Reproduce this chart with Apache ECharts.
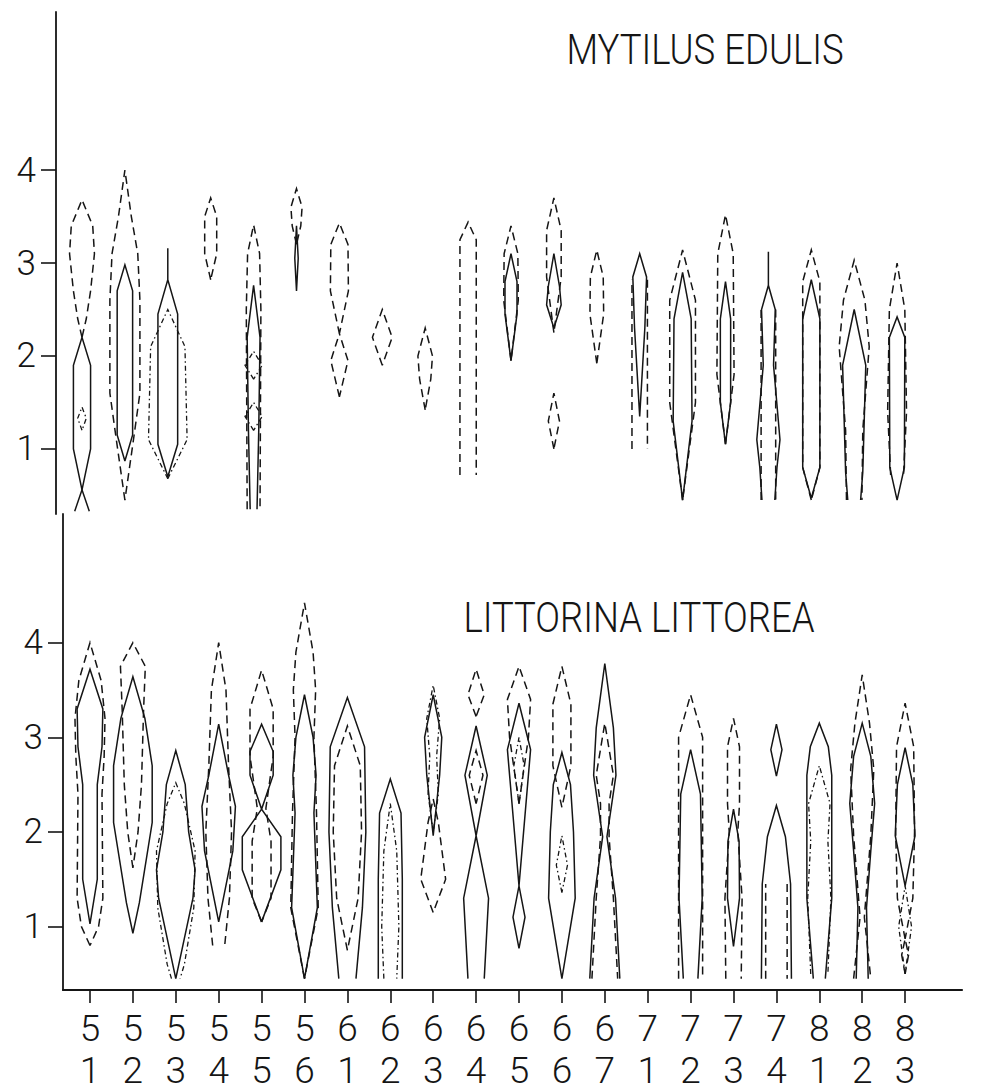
<!DOCTYPE html>
<html><head><meta charset="utf-8">
<script src="https://cdn.jsdelivr.net/npm/echarts@6/dist/echarts.min.js"></script>
<style>html,body{margin:0;padding:0;background:#fff}#c{width:981px;height:1091px}</style>
</head><body><div id="c"></div>
<script>
// Stations (x categories)
const categories = ['5\n1','5\n2','5\n3','5\n4','5\n5','5\n6','6\n1','6\n2','6\n3','6\n4','6\n5','6\n6','6\n7','7\n1','7\n2','7\n3','7\n4','8\n1','8\n2','8\n3'];
const yTicks = [1, 2, 3, 4];
const titleTop = 'MYTILUS EDULIS';
const titleBottom = 'LITTORINA LITTOREA';

// Kite profiles: [categoryIndex, lobe, lobe...]; lobe = [[level, halfWidth], ...]
const mytilusSolid = [
  [0, [[2.2,0],[1.9,0.2],[1.0,0.2],[0.56,0]], [[0.56,0],[0.33,0.17]]],
  [1, [[2.98,0],[2.7,0.18],[1.15,0.18],[0.87,0]]],
  [2, [[3.16,0],[2.82,0],[2.45,0.23],[1.05,0.23],[0.7,0]]],
  [4, [[2.76,0],[2.2,0.15],[1.2,0.12],[0.35,0.08]]],
  [5, [[3.4,0],[3.05,0.04],[2.7,0]]],
  [10, [[3.1,0],[2.8,0.14],[2.45,0.14],[1.95,0]]],
  [11, [[3.1,0],[2.75,0.13],[2.55,0.17],[2.3,0]]],
  [13, [[3.1,0],[2.85,0.16],[2.3,0.12],[1.35,0]]],
  [14, [[2.9,0],[2.4,0.2],[1.3,0.22],[0.45,0]]],
  [15, [[2.8,0],[2.4,0.12],[1.5,0.12],[1.05,0]]],
  [16, [[3.12,0],[2.76,0],[2.5,0.16],[1.9,0.12],[1.1,0.27],[0.8,0.2],[0.45,0.15]]],
  [17, [[2.82,0],[2.4,0.2],[0.8,0.2],[0.47,0]]],
  [18, [[2.5,0],[1.9,0.27],[0.75,0.2],[0.45,0.15]]],
  [19, [[2.42,0],[2.2,0.18],[0.8,0.17],[0.45,0]]]
];
const mytilusDashed = [
  [0, [[3.68,0],[3.4,0.25],[3.1,0.29],[2.7,0.2],[2.4,0.1],[2.2,0]]],
  [1, [[4.0,0],[3.5,0.15],[3.1,0.3],[2.6,0.35],[1.6,0.35],[1.1,0.2],[0.45,0]]],
  [3, [[3.7,0],[3.5,0.14],[3.1,0.14],[2.82,0]]],
  [4, [[3.41,0],[3.1,0.14],[2.5,0.17],[0.35,0.15]]],
  [5, [[3.8,0],[3.6,0.13],[3.4,0.1],[3.2,0]]],
  [6, [[3.43,0],[3.2,0.2],[2.7,0.21],[2.24,0],[1.95,0.2],[1.56,0]]],
  [7, [[2.5,0],[2.2,0.23],[1.9,0]]],
  [8, [[2.3,0],[2.0,0.17],[1.75,0.13],[1.42,0]]],
  [9, [[3.44,0],[3.25,0.19],[0.72,0.19]]],
  [10, [[3.4,0],[3.1,0.16],[2.6,0.17],[1.95,0]]],
  [11, [[3.7,0],[3.35,0.17],[2.85,0.17],[2.25,0]], [[1.6,0],[1.3,0.13],[1.0,0]]],
  [12, [[3.14,0],[2.85,0.15],[2.45,0.16],[1.92,0]]],
  [13, [[2.82,0.18],[1.0,0.18]]],
  [14, [[3.14,0],[2.6,0.3],[1.5,0.3],[0.8,0.1],[0.45,0]]],
  [15, [[3.52,0],[3.1,0.18],[1.8,0.2],[1.05,0]]],
  [16, [[2.5,0.17],[0.45,0.17]]],
  [17, [[3.14,0],[2.8,0.2],[0.8,0.2],[0.45,0]]],
  [18, [[3.03,0],[2.6,0.25],[2.1,0.35],[1.8,0.3],[1.2,0.2],[0.45,0.18]]],
  [19, [[3.0,0],[2.5,0.18],[1.4,0.22],[0.72,0.15]]]
];
const mytilusDotted = [
  [0, [[1.45,0],[1.33,0.1],[1.2,0]]],
  [2, [[2.5,0],[2.3,0.2],[2.1,0.4],[1.1,0.45],[0.68,0]]],
  [4, [[2.05,0],[1.9,0.2],[1.75,0]], [[1.5,0],[1.35,0.2],[1.2,0]]]
];

const littorinaSolid = [
  [0, [[3.72,0],[3.3,0.3],[2.9,0.28],[2.5,0.17],[1.5,0.17],[1.03,0]]],
  [1, [[3.64,0],[3.2,0.28],[2.7,0.45],[2.1,0.45],[1.25,0.15],[0.93,0]]],
  [2, [[2.86,0],[2.5,0.22],[2.0,0.3],[1.6,0.45],[1.3,0.4],[0.45,0]]],
  [3, [[3.14,0],[2.6,0.23],[2.27,0.39],[1.8,0.33],[1.05,0]]],
  [4, [[3.14,0],[2.85,0.27],[2.6,0.27],[2.24,0],[1.95,0.45],[1.6,0.45],[1.05,0]]],
  [5, [[3.45,0],[3.0,0.2],[2.6,0.27],[2.2,0.22],[1.2,0.3],[0.45,0]]],
  [6, [[3.42,0],[2.9,0.4],[2.0,0.43],[1.2,0.35],[0.45,0.2]]],
  [7, [[2.56,0],[2.2,0.25],[1.5,0.28],[0.45,0.28]]],
  [8, [[3.45,0],[3.0,0.2],[2.6,0.15],[1.96,0]]],
  [9, [[3.12,0],[2.6,0.26],[1.96,0]], [[1.96,0],[1.3,0.29],[0.45,0.19]]],
  [10, [[3.36,0],[2.87,0.27],[1.43,0]], [[1.43,0],[1.1,0.14],[0.77,0]]],
  [11, [[2.84,0],[2.5,0.2],[2.0,0.27],[1.3,0.31],[0.45,0]]],
  [12, [[3.78,0],[3.1,0.2],[2.6,0.26],[1.95,0.05],[1.3,0.25],[0.45,0.35]]],
  [14, [[2.87,0],[2.4,0.23],[1.3,0.27],[0.45,0.17]]],
  [15, [[2.24,0],[1.9,0.13],[1.3,0.14],[0.79,0]]],
  [16, [[3.14,0],[2.87,0.13],[2.59,0]], [[2.28,0],[1.95,0.21],[1.45,0.33],[0.45,0.35]]],
  [17, [[3.15,0],[2.9,0.21],[2.6,0.29],[1.3,0.29],[0.45,0.14]]],
  [18, [[3.15,0],[2.8,0.2],[2.3,0.29],[1.8,0.2],[1.2,0.1],[0.45,0.14]]],
  [19, [[2.89,0],[2.5,0.18],[1.96,0.23],[1.43,0]]]
];
const littorinaDashed = [
  [0, [[4.0,0],[3.6,0.26],[3.2,0.35],[2.8,0.33],[2.4,0.28],[1.3,0.3],[1.0,0.2],[0.8,0]]],
  [1, [[4.0,0],[3.75,0.29],[3.3,0.25],[2.5,0.2],[2.0,0.12],[1.62,0]]],
  [3, [[4.0,0],[3.5,0.17],[2.7,0.23],[2.0,0.3],[1.3,0.25],[0.8,0.14]]],
  [4, [[3.71,0],[3.3,0.27],[2.8,0.27],[2.25,0.1],[1.9,0.22],[1.3,0.22],[1.05,0]]],
  [5, [[4.42,0],[3.9,0.2],[3.5,0.26],[3.0,0.22],[2.2,0.28],[1.2,0.32],[0.45,0]]],
  [6, [[3.12,0],[2.7,0.3],[2.0,0.33],[1.3,0.25],[0.75,0]]],
  [8, [[2.35,0],[2.1,0.12],[1.5,0.29],[1.15,0]]],
  [9, [[3.72,0],[3.45,0.19],[3.22,0]], [[2.86,0],[2.6,0.16],[2.3,0]]],
  [10, [[3.75,0],[3.4,0.27],[3.0,0.22],[2.3,0]]],
  [11, [[3.75,0],[3.35,0.21],[2.7,0.21],[2.26,0]]],
  [12, [[3.15,0],[2.6,0.2],[2.3,0.1],[1.95,0.1],[1.3,0.2],[0.45,0.3]]],
  [14, [[3.45,0],[3.0,0.28],[2.6,0.28],[0.45,0.28]]],
  [15, [[3.2,0],[2.9,0.14],[2.3,0.14],[2.0,0.1],[1.3,0.2],[0.45,0.18]]],
  [16, [[1.45,0.25],[0.45,0.25]]],
  [18, [[3.66,0],[3.15,0.17],[2.66,0.27],[1.96,0.2],[1.1,0.05],[0.45,0.2]]],
  [19, [[3.36,0],[2.9,0.2],[2.0,0.22],[1.3,0.18],[0.87,0]], [[0.87,0],[0.7,0.08],[0.5,0]]]
];
const littorinaDotted = [
  [2, [[2.52,0],[2.3,0.2],[1.8,0.45],[1.2,0.42],[0.6,0.2],[0.45,0.1]]],
  [7, [[2.3,0],[1.8,0.15],[1.0,0.2],[0.45,0.15]]],
  [8, [[3.55,0],[3.2,0.15],[2.8,0.08],[2.4,0.12],[2.0,0]]],
  [10, [[3.0,0],[2.7,0.12],[2.3,0]]],
  [11, [[1.96,0],[1.65,0.13],[1.36,0]]],
  [17, [[2.7,0],[2.3,0.25],[1.9,0.2],[1.3,0.27],[0.5,0.2]]],
  [19, [[1.43,0],[1.0,0.15],[0.5,0]]]
];

const INK = '#151515';
const STYLES = {
  solid: {w: 1.5, dash: null},
  dashed: {w: 1.5, dash: [8, 5]},
  dotted: {w: 1.3, dash: [5, 3, 1.5, 3]}
};

function lobePaths(lobe, c) {
  const pts = lobe.slice().sort((a, b) => a[0] - b[0]);
  const left = pts.map(([v, w]) => [c - w, v]);
  const right = pts.slice().reverse().map(([v, w]) => [c + w, v]);
  const topOpen = pts[pts.length - 1][1] > 0;
  return topOpen ? [left, right] : [left.concat(right.slice(1))];
}

function kiteSeries(list, st, gi) {
  const lobes = [];
  list.forEach(([c, ...shapes]) => shapes.forEach(s => lobes.push({c, s})));
  return {
    type: 'custom', xAxisIndex: gi, yAxisIndex: gi, silent: true, clip: false,
    data: lobes.map(l => [l.c, l.s[0][0]]),
    encode: {x: 0, y: 1},
    renderItem(params, api) {
      const l = lobes[params.dataIndex];
      return {
        type: 'group',
        children: lobePaths(l.s, l.c).map(p => ({
          type: 'polyline',
          shape: {points: p.map(pt => api.coord(pt))},
          style: {stroke: INK, fill: 'none', lineWidth: st.w, lineDash: st.dash, lineJoin: 'miter'}
        }))
      };
    }
  };
}

const FONT = 'Roboto, "Liberation Sans", "DejaVu Sans", sans-serif';
const WEIGHT = 300;

function yAxisCfg(gi, min, max) {
  return {
    type: 'value', gridIndex: gi, min, max,
    axisLine: {show: true, onZero: false, lineStyle: {color: INK, width: 1.8}},
    axisTick: {show: true, length: 15, customValues: yTicks, lineStyle: {color: INK, width: 1.6}},
    axisLabel: {show: true, customValues: yTicks, margin: 20, color: INK, fontSize: 35, fontWeight: WEIGHT, fontFamily: FONT},
    splitLine: {show: false}
  };
}

function titleText(text, cx, cy) {
  return {
    type: 'text', x: cx, y: cy, scaleX: 0.87, scaleY: 1, silent: true,
    style: {text, fontSize: 42, fontWeight: WEIGHT, fontFamily: FONT, fill: INK, align: 'center', verticalAlign: 'middle'}
  };
}

const chart = echarts.init(document.getElementById('c'), null, {renderer: 'svg'});
chart.setOption({
  backgroundColor: '#fff',
  animation: false,
  graphic: [titleText(titleTop, 705, 50), titleText(titleBottom, 639, 618)],
  grid: [
    {left: 56, top: 12, width: 906, height: 502},
    {left: 63, top: 514, width: 899, height: 478}
  ],
  xAxis: [
    {type: 'value', gridIndex: 0, min: -0.606, max: 20.513, show: false},
    {type: 'value', gridIndex: 1, min: -0.629, max: 20.326,
     axisLine: {show: true, onZero: false, lineStyle: {color: INK, width: 2.2}},
     axisTick: {show: true, length: 13, customValues: categories.map((_, i) => i), lineStyle: {color: INK, width: 1.6}},
     axisLabel: {show: true, customValues: categories.map((_, i) => i), margin: 17,
                 formatter: v => categories[Math.round(v)], color: INK, fontSize: 37, fontWeight: WEIGHT, lineHeight: 42, fontFamily: FONT},
     splitLine: {show: false}}
  ],
  yAxis: [yAxisCfg(0, 0.3, 5.7), yAxisCfg(1, 0.33, 5.36)],
  series: [
    kiteSeries(mytilusSolid, STYLES.solid, 0),
    kiteSeries(mytilusDashed, STYLES.dashed, 0),
    kiteSeries(mytilusDotted, STYLES.dotted, 0),
    kiteSeries(littorinaSolid, STYLES.solid, 1),
    kiteSeries(littorinaDashed, STYLES.dashed, 1),
    kiteSeries(littorinaDotted, STYLES.dotted, 1)
  ]
});
</script></body></html>
